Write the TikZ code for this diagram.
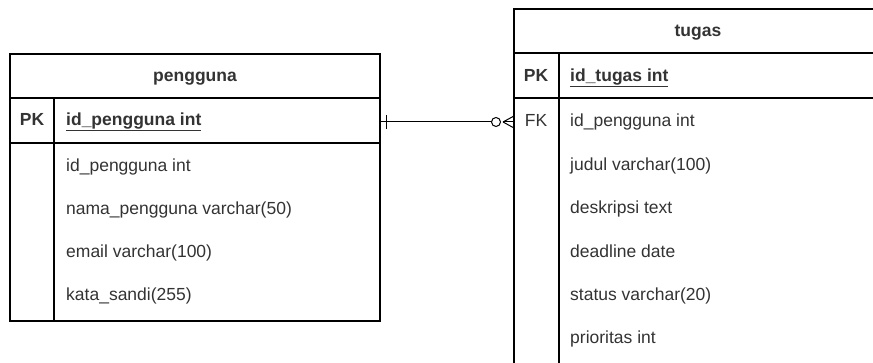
\documentclass[tikz,border=0pt]{standalone}
\usepackage{fontspec}
\setmainfont{Liberation Sans}
\begin{document}
\begin{tikzpicture}[x=1pt,y=-1pt,
  tbl/.style={draw=black, line width=1.3pt},
  sep/.style={draw=black, line width=1.3pt},
  cell/.style={inner sep=0pt, anchor=west, text=black!80, font=\fontsize{17.5}{19}\selectfont, text height=12.5pt, text depth=3.5pt},
  ccell/.style={cell, anchor=center},
  bcell/.style={cell, font=\fontsize{17.5}{19}\selectfont\bfseries},
  bccell/.style={ccell, font=\fontsize{17.5}{19}\selectfont\bfseries},
  rel/.style={draw=black, line width=1pt}]
\useasboundingbox (0,0) rectangle (873,363);
\clip (0,0) rectangle (873,363);
% pengguna table
\draw[tbl] (10,54) rectangle (380,321);
\draw[sep] (10,98) -- (380,98);
\draw[sep] (10,143) -- (380,143);
\draw[sep] (54,98) -- (54,321);
\node[bccell] (ph) at (195,77) {pengguna};
\node[bccell] (ppk) at (32,121) {PK};
\node[bcell] (p1) at (66,121) {\underline{id\_pengguna int}};
\node[cell] (p2) at (66,167) {id\_pengguna int};
\node[cell] (p3) at (66,210) {nama\_pengguna varchar(50)};
\node[cell] (p4) at (66,253) {email varchar(100)};
\node[cell] (p5) at (66,296) {kata\_sandi(255)};
% tugas table
\draw[tbl] (514,9) rectangle (882,390);
\draw[sep] (514,53) -- (882,53);
\draw[sep] (514,98) -- (882,98);
\draw[sep] (559,53) -- (559,390);
\node[bccell] (th) at (698,32) {tugas};
\node[bccell] (tpk) at (536,77) {PK};
\node[bcell] (t1) at (570,77) {\underline{id\_tugas int}};
\node[ccell] (tfk) at (536,122) {FK};
\node[cell] (t2) at (570,122) {id\_pengguna int};
\node[cell] (t3) at (570,166) {judul varchar(100)};
\node[cell] (t4) at (570,209) {deskripsi text};
\node[cell] (t5) at (570,253) {deadline date};
\node[cell] (t6) at (570,296) {status varchar(20)};
\node[cell] (t7) at (570,339) {prioritas int};
% relationship
\coordinate (ra) at (380,122);
\coordinate (rb) at (514,122);
\coordinate (rc) at (491.5,122);
\coordinate (rf) at (503,122);
\draw[rel] (ra) -- (rc);
\draw[rel] ([xshift=6pt]ra) ++(0,-7) -- ++(0,14);
\draw[rel, fill=white] ([xshift=4.5pt]rc) circle (4.5pt);
\draw[rel] (rf) -- (rb);
\draw[rel] (rf) -- ([yshift=-6pt]rb);
\draw[rel] (rf) -- ([yshift=6pt]rb);
\end{tikzpicture}
\end{document}
